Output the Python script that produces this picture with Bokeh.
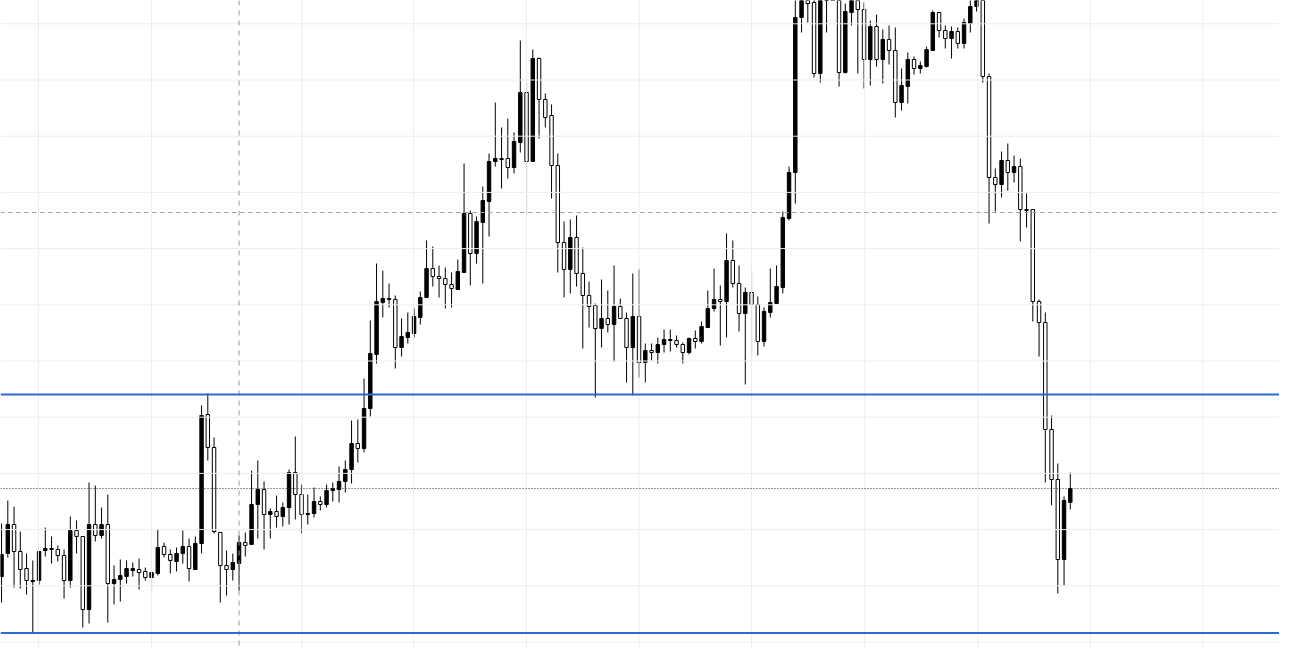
from bokeh.plotting import figure
from bokeh.models import Range1d, Span, ColumnDataSource
from bokeh.embed import file_html
from bokeh.resources import INLINE

# OHLC values (arbitrary price units), one entry per bar
opens = [89, 112, 141, 114, 97, 85, 85, 115, 116, 116, 110, 85, 135, 129, 56, 141, 130, 141, 82, 86,
         89, 95, 96, 94, 88, 92, 119, 111, 104, 112, 119, 96, 122, 251, 218, 133, 100, 96, 102, 123,
         121, 161, 176, 151, 154, 149, 158, 193, 171, 152, 152, 164, 161, 175, 176, 184, 196, 222, 217, 257,
         311, 363, 367, 366, 318, 328, 332, 348, 368, 397, 389, 387, 381, 376, 393, 452, 412, 443, 464, 504,
         507, 507, 498, 523, 573, 504, 607, 566, 550, 500, 423, 396, 428, 392, 370, 360, 337, 347, 341, 359,
         347, 318, 349, 303, 315, 313, 321, 325, 325, 321, 313, 327, 324, 338, 357, 366, 364, 405, 382, 352,
         373, 361, 324, 353, 362, 378, 447, 493, 648, 680, 663, 592, 670, 695, 670, 593, 653, 668, 656, 606,
         639, 606, 626, 615, 563, 579, 606, 597, 599, 615, 653, 635, 627, 634, 622, 642, 659, 668, 589, 488,
         481, 505, 493, 499, 456, 456, 364, 343, 236, 186, 106, 163]
highs = [142, 165, 159, 134, 112, 105, 114, 138, 129, 120, 116, 149, 145, 129, 183, 180, 158, 171, 100, 106,
         105, 103, 107, 98, 93, 136, 123, 116, 118, 135, 127, 129, 260, 272, 228, 133, 115, 112, 130, 133,
         195, 205, 184, 157, 170, 163, 196, 229, 181, 171, 178, 169, 181, 183, 199, 205, 245, 246, 287, 345,
         402, 395, 382, 370, 347, 353, 357, 374, 425, 419, 400, 398, 393, 406, 502, 455, 449, 479, 512, 563,
         538, 547, 533, 625, 583, 616, 608, 572, 561, 512, 444, 446, 450, 418, 384, 362, 386, 375, 400, 367,
         353, 392, 396, 322, 322, 328, 336, 336, 330, 323, 328, 335, 344, 375, 397, 380, 432, 425, 400, 378,
         396, 369, 358, 397, 400, 454, 499, 670, 685, 690, 670, 685, 695, 705, 680, 662, 680, 675, 663, 645,
         651, 636, 640, 638, 597, 613, 609, 604, 619, 655, 653, 640, 639, 638, 647, 670, 675, 675, 592, 497,
         514, 522, 510, 507, 472, 456, 366, 353, 250, 202, 169, 193]
lows = [63, 108, 78, 77, 71, 32, 81, 109, 102, 104, 67, 78, 112, 38, 42, 124, 127, 43, 61, 64,
        82, 89, 76, 85, 74, 90, 108, 92, 94, 102, 84, 96, 112, 205, 132, 63, 70, 85, 75, 109,
        121, 127, 116, 127, 138, 139, 141, 146, 132, 141, 148, 155, 158, 164, 163, 173, 182, 203, 213, 249,
        302, 348, 358, 297, 309, 322, 328, 341, 368, 379, 368, 357, 358, 376, 393, 380, 402, 382, 429, 499,
        477, 487, 492, 513, 450, 504, 527, 538, 467, 393, 368, 372, 379, 317, 338, 268, 318, 333, 304, 347,
        283, 270, 288, 283, 305, 302, 313, 314, 318, 302, 311, 317, 322, 338, 354, 320, 328, 378, 334, 281,
        309, 310, 319, 348, 362, 372, 445, 462, 633, 643, 588, 583, 633, 670, 579, 592, 640, 592, 577, 580,
        599, 582, 601, 548, 555, 562, 591, 592, 598, 615, 628, 617, 607, 617, 617, 633, 654, 583, 442, 454,
        468, 475, 483, 424, 438, 344, 309, 183, 160, 72, 80, 156]
closes = [111, 141, 114, 96, 85, 84, 114, 117, 117, 110, 85, 135, 129, 56, 141, 130, 141, 82, 86, 90,
          97, 97, 93, 88, 93, 118, 111, 105, 112, 119, 97, 122, 250, 218, 134, 100, 96, 103, 123, 120,
          161, 176, 151, 154, 149, 158, 193, 171, 151, 151, 164, 161, 175, 177, 184, 196, 222, 217, 257, 312,
          364, 367, 366, 318, 329, 333, 349, 368, 397, 389, 387, 381, 377, 394, 452, 412, 444, 465, 504, 507,
          506, 498, 524, 573, 504, 607, 566, 548, 500, 423, 396, 428, 392, 370, 359, 337, 347, 341, 359, 347,
          318, 349, 303, 315, 313, 321, 326, 326, 321, 313, 327, 324, 339, 357, 366, 364, 405, 382, 352, 373,
          361, 324, 354, 363, 379, 448, 493, 648, 675, 662, 592, 675, 685, 680, 593, 654, 670, 656, 606, 639,
          606, 626, 615, 563, 580, 606, 597, 600, 616, 653, 635, 627, 634, 622, 643, 659, 670, 589, 488, 481,
          505, 493, 499, 456, 455, 364, 343, 236, 186, 106, 165, 177]

# Horizontal levels
support_levels = [271, 32.5]
dashed_level = 453
dotted_level = 177
dashed_bar = 38

# Grid positions
grid_bars = [5.9, 24, 48.1, 65.9, 84, 102, 120, 138.1, 156.2, 174.2, 192.2]
grid_prices = [641.7, 585.5, 529.3, 473.1, 416.9, 360.7, 304.5, 248.3, 192.1, 135.9, 79.7, 23.5]

n = len(opens)
idx = list(range(n))
tops = [max(o, c) for o, c in zip(opens, closes)]
bots = [min(o, c) for o, c in zip(opens, closes)]
fills = ["black" if c > o else "white" for o, c in zip(opens, closes)]

src = ColumnDataSource(dict(x=idx, o=opens, h=highs, l=lows, c=closes, top=tops, bot=bots, fill=fills))

p = figure(width=1279, height=649, output_backend="svg", toolbar_location=None,
           x_range=Range1d(-0.168, 204.472), y_range=Range1d(16, 665),
           x_axis_location=None, y_axis_location=None, min_border=0)
p.outline_line_color = None
p.xgrid.visible = False
p.ygrid.visible = False
p.background_fill_color = "white"
p.border_fill_color = "white"

for gx in grid_bars:
    p.add_layout(Span(location=gx, dimension="height", line_color="#ededed", line_width=1))
for gy in grid_prices:
    p.add_layout(Span(location=gy, dimension="width", line_color="#ededed", line_width=1))

p.add_layout(Span(location=dashed_bar, dimension="height", line_color="#9a9a9a",
                  line_width=1, line_dash="5 5"))
p.add_layout(Span(location=dashed_level, dimension="width", line_color="#9a9a9a",
                  line_width=1, line_dash="4 4"))
p.add_layout(Span(location=dotted_level, dimension="width", line_color="#333333",
                  line_width=1, line_dash="1 2"))
for lv in support_levels:
    p.add_layout(Span(location=lv, dimension="width", line_color="#2a6ad2", line_width=2))

p.segment(x0="x", y0="h", x1="x", y1="l", source=src, line_color="black", line_width=1)
p.vbar(x="x", top="top", bottom="bot", width=0.55, source=src,
       fill_color="fill", line_color="black", line_width=1)

open("out.html", "w").write(file_html(p, INLINE))
